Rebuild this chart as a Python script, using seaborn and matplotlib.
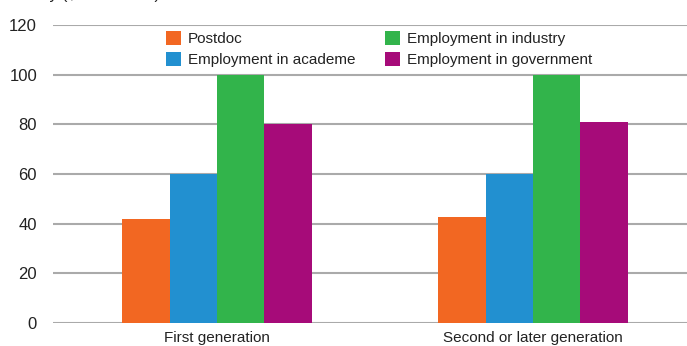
import matplotlib
matplotlib.use("Agg")
import matplotlib.pyplot as plt
import seaborn as sns
import pandas as pd

# Data
generations = ["First generation", "Second or later generation"]
sectors = ["Postdoc", "Employment in academe", "Employment in industry", "Employment in government"]
postdoc = [42, 42.5]
academe = [60, 60]
industry = [100, 100]
government = [80, 81]
colors = ["#F26722", "#2290D0", "#32B44B", "#A60B79"]
y_ticks = [0, 20, 40, 60, 80, 100, 120]

rows = []
for sector, vals in zip(sectors, [postdoc, academe, industry, government]):
    for gen, v in zip(generations, vals):
        rows.append({"generation": gen, "sector": sector, "value": v})
df = pd.DataFrame(rows)

sns.set_theme(style="white")
plt.rcParams["font.family"] = ["Liberation Sans", "DejaVu Sans"]

fig = plt.figure(figsize=(6.87, 3.46), dpi=100)
ax = fig.add_axes([53 / 687, 23 / 346, 634 / 687, 298 / 346])

sns.barplot(data=df, x="generation", y="value", hue="sector",
            hue_order=sectors, order=generations, palette=colors,
            width=0.6, gap=0, saturation=1, edgecolor="none",
            linewidth=0, ax=ax, zorder=3)

ax.set_ylim(0, 120)
ax.set_xlim(-0.519, 1.487)
ax.set_yticks(y_ticks)
ax.set_yticklabels([str(t) for t in y_ticks])
ax.grid(axis="y", color="#aaaaaa", linewidth=1.5, zorder=0)
ax.grid(axis="x", visible=False)
ax.set_axisbelow(True)
for s in ax.spines.values():
    s.set_visible(False)
ax.tick_params(axis="y", length=0, labelsize=12, colors="#222222", pad=11.5)
ax.tick_params(axis="x", length=0, labelsize=11, colors="#222222", pad=6)
ax.set_xlabel("")
ax.set_ylabel("")

leg = ax.legend(loc="upper left", bbox_to_anchor=(110 / 634, 0.99), ncol=2,
                frameon=True, fontsize=11, handlelength=1.0, handleheight=1.0,
                handletextpad=0.45, columnspacing=1.9, labelspacing=0.4,
                borderpad=0.2, borderaxespad=0)
leg.get_frame().set_facecolor("white")
leg.get_frame().set_edgecolor("none")
leg.get_frame().set_alpha(1)
for t in leg.get_texts():
    t.set_color("#222222")

fig.text(12 / 687, 1 + 0.5 / 346, "Salary ($ thousands)", ha="left",
         va="baseline", fontsize=11.5, color="#222222")

fig.savefig("out.png", dpi=100)
